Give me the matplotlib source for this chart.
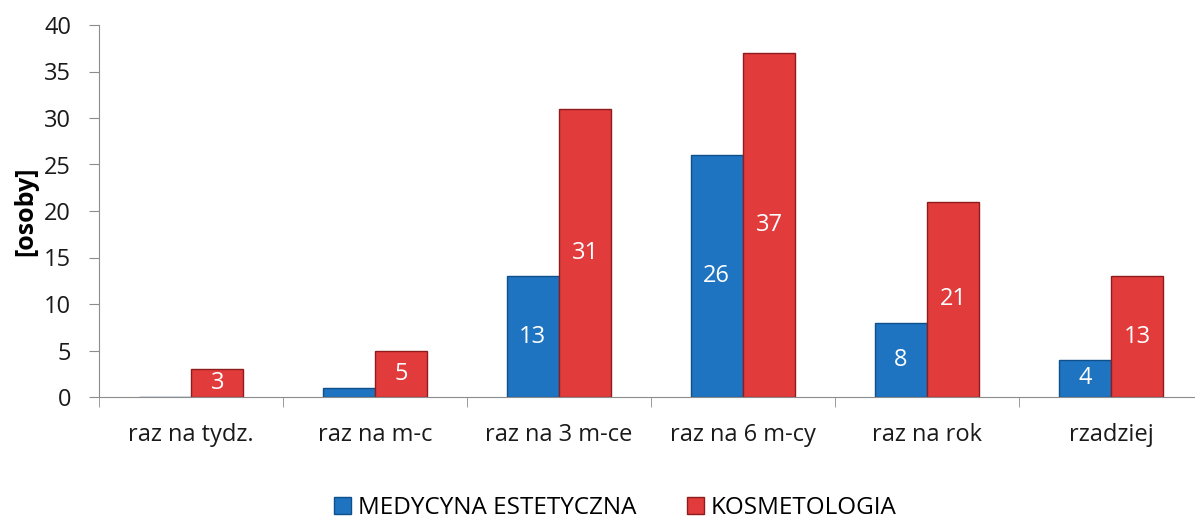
import matplotlib
matplotlib.use("Agg")
import matplotlib.pyplot as plt
import numpy as np
from matplotlib.patches import Patch

categories = ["raz na tydz.", "raz na m-c", "raz na 3 m-ce", "raz na 6 m-cy", "raz na rok", "rzadziej"]
medycyna = [0, 1, 13, 26, 8, 4]
kosmetologia = [3, 5, 31, 37, 21, 13]
series_names = ["MEDYCYNA ESTETYCZNA", "KOSMETOLOGIA"]
yticks = [0, 5, 10, 15, 20, 25, 30, 35, 40]

plt.rcParams['font.family'] = ['Open Sans', 'DejaVu Sans']

fig = plt.figure(figsize=(11.95, 5.21), dpi=100)
ax = fig.add_axes([99/1195, 124/521, 1104/1195, 372/521])

x = np.arange(len(categories))
w = 0.285
blue, blue_e = "#1f74c2", "#0f4f8a"
red, red_e = "#e23b3b", "#8e1c1c"
b1 = ax.bar(x - w/2, medycyna, w, color=blue, edgecolor=blue_e, linewidth=1.0)
b2 = ax.bar(x + w/2, kosmetologia, w, color=red, edgecolor=red_e, linewidth=1.0)

for rect, v in zip(b1, medycyna):
    if v >= 4:
        ax.text(rect.get_x() + rect.get_width()/2, v/2, str(v), ha='center', va='center',
                color='white', fontsize=17)
for rect, v in zip(b2, kosmetologia):
    ax.text(rect.get_x() + rect.get_width()/2, v/2, str(v), ha='center', va='center',
            color='white', fontsize=17)

ax.set_xlim(-0.5, len(categories) - 0.5)
ax.set_ylim(0, 40)
ax.set_yticks(yticks)
ax.tick_params(axis='y', labelsize=17, length=7, color='#8c8c8c', pad=13, labelcolor='#1a1a1a')
ax.set_xticks(x)
ax.set_xticklabels(categories, fontsize=17, color='#1a1a1a')
ax.tick_params(axis='x', length=0, pad=19)
ax.set_xticks(np.arange(len(categories) + 1) - 0.5, minor=True)
ax.tick_params(axis='x', which='minor', length=7, color='#8c8c8c', direction='out')

for s in ['top', 'right']:
    ax.spines[s].set_visible(False)
ax.spines['left'].set_color('#8c8c8c')
ax.spines['bottom'].set_color('#8c8c8c')

ax.set_ylabel("[osoby]", fontsize=18, fontweight='bold', labelpad=4)

handles = [Patch(facecolor=blue, edgecolor=blue_e), Patch(facecolor=red, edgecolor=red_e)]
fig.legend(handles, series_names, loc='center', bbox_to_anchor=(0.515, 0.025), ncol=2,
           frameon=False, fontsize=17.5, handlelength=0.7, handleheight=0.7,
           handletextpad=0.3, columnspacing=2.05)

fig.savefig("out.png", dpi=100)
